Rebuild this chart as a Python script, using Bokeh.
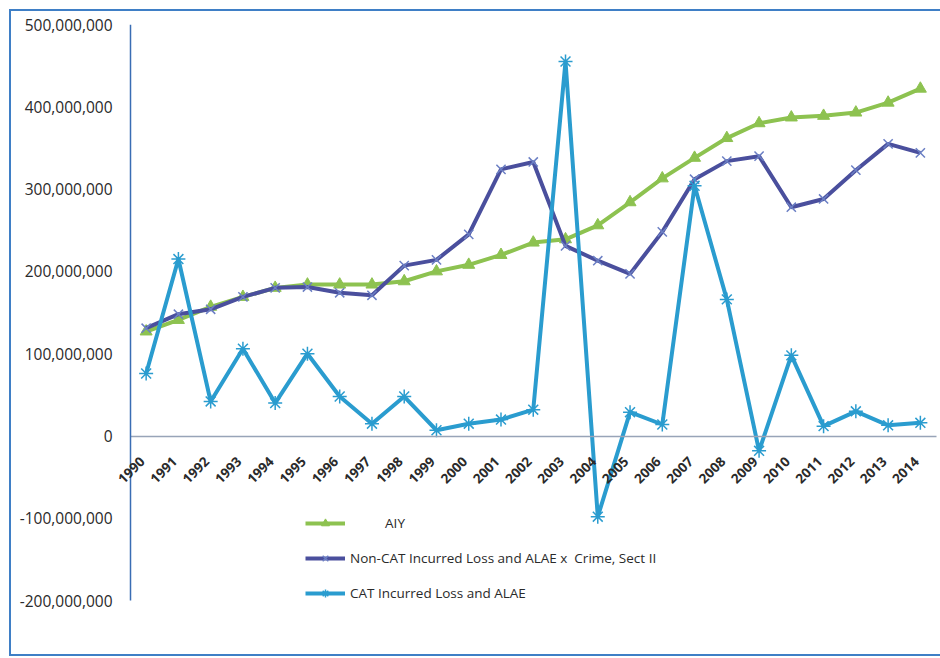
import math
from bokeh.plotting import figure
from bokeh.core.properties import value
from bokeh.models import (Range1d, FixedTicker, NumeralTickFormatter, LinearAxis,
                          Legend, LegendItem, LabelSet, ColumnDataSource)
from bokeh.embed import file_html
from bokeh.resources import INLINE

years = [str(y) for y in range(1990, 2015)]
aiy = [127, 141, 157, 169, 180, 184, 184, 184, 188, 200, 208, 220, 235, 239,
       256, 284, 313, 338, 362, 380, 387, 389, 393, 405, 422]
noncat = [131, 148, 154, 169, 180, 181, 174, 171, 207, 214, 245, 324, 333, 231,
          213, 197, 248, 312, 334, 340, 278, 288, 323, 355, 344]
cat = [76, 215, 42, 106, 40, 100, 48, 15, 48, 7, 15, 20, 32, 455,
       -98, 29, 14, 304, 166, -18, 98, 12, 30, 13, 16]
y_ticks = [-200, -100, 0, 100, 200, 300, 400, 500]
labels = ["\u00a0" * 10 + "AIY",
          "Non-CAT Incurred Loss and ALAE x  Crime, Sect II",
          "CAT Incurred Loss and ALAE"]

M = 1_000_000
N = len(years)
xs = [i + 0.5 for i in range(N)]          # category centres
aiy_v = [v * M for v in aiy]
noncat_v = [v * M for v in noncat]
cat_v = [v * M for v in cat]

GREEN = "#8dc250"
DARK = "#4a4f9d"
LIGHT = "#2a9ccf"
FONT = "Open Sans"

W, H = 931, 647
p = figure(width=W, height=H, output_backend="svg", toolbar_location=None,
           x_range=Range1d(-0.388, 25.186),
           y_range=Range1d(-212 * M, 500 * M),
           min_border_left=106, min_border_right=0, min_border_top=13,
           min_border_bottom=48,
           styles={"margin-left": "9px", "margin-top": "9px",
                   "border-left": "2px solid #3f7fc6",
                   "border-top": "2px solid #3f7fc6",
                   "border-bottom": "2px solid #3f7fc6",
                   "box-sizing": "border-box"})
p.outline_line_color = None
p.xgrid.visible = False
p.ygrid.visible = False

# horizontal category axis drawn at zero (line only)
xa = p.xaxis[0]
xa.fixed_location = 0
xa.bounds = (0, N)
xa.ticker = FixedTicker(ticks=[])
xa.axis_line_color = "#98a4b8"
xa.axis_line_width = 1.5
xa.major_tick_line_color = None
xa.minor_tick_line_color = None

r1l = p.line(xs, aiy_v, line_color=GREEN, line_width=4)
r1m = p.scatter(xs, aiy_v, marker="triangle", size=12, fill_color=GREEN,
                line_color=GREEN)
r2l = p.line(xs, noncat_v, line_color=DARK, line_width=4)
r2m = p.scatter(xs, noncat_v, marker="x", size=13, line_color="#6b7fc4",
                line_width=1.5)
r3l = p.line(xs, cat_v, line_color=LIGHT, line_width=4)
r3m = p.scatter(xs, cat_v, marker="asterisk", size=14, line_color=LIGHT,
                line_width=1.5)

# value axis labels
ya = p.yaxis[0]
ya.ticker = FixedTicker(ticks=[t * M for t in y_ticks])
ya.formatter = NumeralTickFormatter(format="0,0")
ya.axis_line_color = None
ya.major_tick_line_color = None
ya.minor_tick_line_color = None
ya.major_tick_out = 0
ya.major_tick_in = 0
ya.major_label_text_font = FONT
ya.major_label_text_font_size = "15.5px"
ya.major_label_text_color = "#2a2a2a"
ya.major_label_standoff = 5

# value axis line at the start of the categories
yline = LinearAxis(fixed_location=0, bounds=(-200 * M, 500 * M),
                   ticker=FixedTicker(ticks=[]), axis_line_color="#3a6db4",
                   axis_line_width=1.5, major_tick_line_color=None,
                   minor_tick_line_color=None)
p.add_layout(yline, "right")

# year labels along the zero line
src = ColumnDataSource(dict(x=xs, year=years, zero=[0] * N))
p.add_layout(LabelSet(x="x", y="zero", text="year", source=src,
                      angle=math.pi / 4, text_align="right",
                      text_baseline="middle", x_offset=-4, y_offset=-23,
                      text_font=value(FONT), text_font_style="bold",
                      text_font_size=value("13.5px"),
                      text_color="#2a2a2a"))

legend = Legend(items=[
    LegendItem(label=labels[0], renderers=[r1l, r1m]),
    LegendItem(label=labels[1], renderers=[r2l, r2m]),
    LegendItem(label=labels[2], renderers=[r3l, r3m]),
], location=(188, 7), orientation="vertical")
legend.border_line_color = None
legend.background_fill_alpha = 0
legend.padding = 0
legend.margin = 0
legend.spacing = 15
legend.glyph_width = 40
legend.glyph_height = 20
legend.label_height = 20
legend.label_standoff = 5
legend.label_text_font = FONT
legend.label_text_font_size = "13.5px"
legend.label_text_color = "#2a2a2a"
p.add_layout(legend, "center")

open("out.html", "w").write(file_html(p, INLINE))
